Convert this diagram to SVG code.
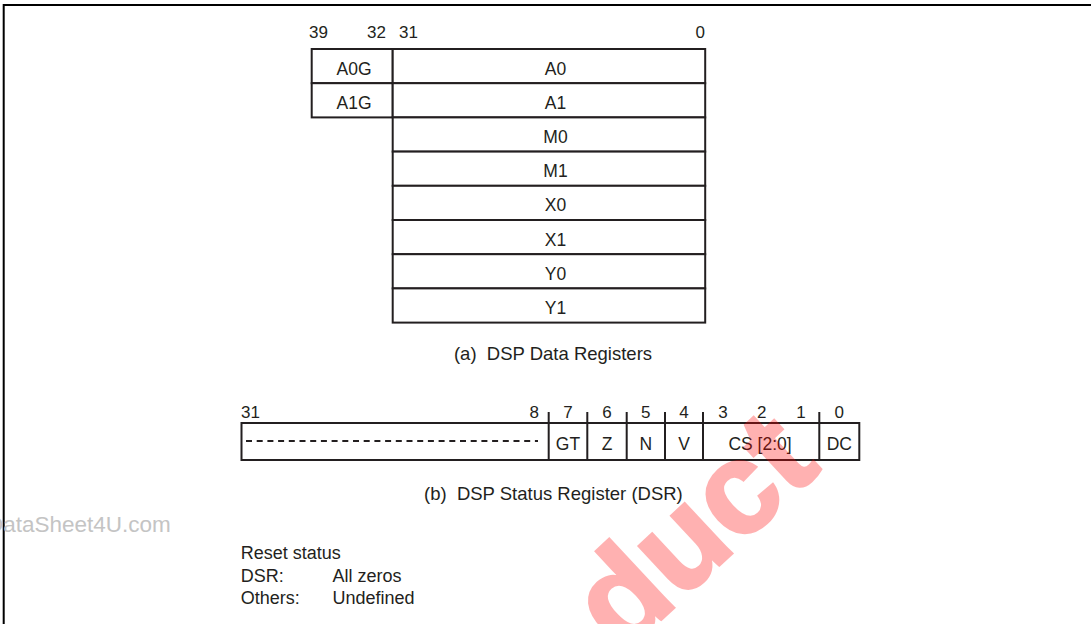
<svg xmlns="http://www.w3.org/2000/svg" width="1091" height="624" viewBox="0 0 1091 624">
<style>
  text { font-family: "Liberation Sans", Arial, sans-serif; fill: #231f20; }
  .cell { fill: #ffffff; stroke: #231f20; stroke-width: 2; }
  .lbl { font-size: 17.5px; text-anchor: middle; }
  .bit { font-size: 17px; }
  .mid { text-anchor: middle; }
  .end { text-anchor: end; }
  .cap { font-size: 18.5px; text-anchor: middle; }
  .note { font-size: 18px; }
  .ln { stroke: #231f20; stroke-width: 2; fill: none; }
  .frame { stroke: #000000; stroke-width: 2; fill: none; }
  .wm { font-size: 22.5px; fill: #c4c4c4; }
  .wmred { font-size: 130px; font-weight: bold; fill: #ff0000; stroke: #ff0000; stroke-width: 3; opacity: 0.3; }
</style>

<g id="frame">
  <path class="frame" d="M3.7,624 V5 H1091"/>
</g>

<!-- (a) DSP data registers -->
<g id="data-bits">
  <text class="bit" x="309" y="38">39</text>
  <text class="bit end" x="386" y="38">32</text>
  <text class="bit" x="399" y="38">31</text>
  <text class="bit end" x="705" y="38">0</text>
</g>
<g id="A0G"><rect class="cell" x="311.7" y="49" width="81" height="34.2"/><text class="lbl" x="354" y="74.5">A0G</text></g>
<g id="A1G"><rect class="cell" x="311.7" y="83.2" width="81" height="34.2"/><text class="lbl" x="354" y="108.7">A1G</text></g>
<g id="A0"><rect class="cell" x="392.7" y="49" width="312.5" height="34.2"/><text class="lbl" x="555.5" y="74.5">A0</text></g>
<g id="A1"><rect class="cell" x="392.7" y="83.2" width="312.5" height="34.2"/><text class="lbl" x="555.5" y="108.7">A1</text></g>
<g id="M0"><rect class="cell" x="392.7" y="117.4" width="312.5" height="34.2"/><text class="lbl" x="555.5" y="142.9">M0</text></g>
<g id="M1"><rect class="cell" x="392.7" y="151.6" width="312.5" height="34.2"/><text class="lbl" x="555.5" y="177.1">M1</text></g>
<g id="X0"><rect class="cell" x="392.7" y="185.8" width="312.5" height="34.2"/><text class="lbl" x="555.5" y="211.3">X0</text></g>
<g id="X1"><rect class="cell" x="392.7" y="220" width="312.5" height="34.2"/><text class="lbl" x="555.5" y="245.5">X1</text></g>
<g id="Y0"><rect class="cell" x="392.7" y="254.2" width="312.5" height="34.2"/><text class="lbl" x="555.5" y="279.7">Y0</text></g>
<g id="Y1"><rect class="cell" x="392.7" y="288.4" width="312.5" height="34.2"/><text class="lbl" x="555.5" y="313.9">Y1</text></g>
<g id="caption-a"><text class="cap" x="553" y="359.5">(a)&#160; DSP Data Registers</text></g>

<!-- (b) DSP status register -->
<g id="dsr-bits">
  <text class="bit" x="241" y="418">31</text>
  <text class="bit end" x="539" y="418">8</text>
  <text class="bit mid" x="568" y="418">7</text>
  <text class="bit mid" x="607" y="418">6</text>
  <text class="bit mid" x="645.8" y="418">5</text>
  <text class="bit mid" x="684" y="418">4</text>
  <text class="bit mid" x="723" y="418">3</text>
  <text class="bit mid" x="761.7" y="418">2</text>
  <text class="bit mid" x="801" y="418">1</text>
  <text class="bit mid" x="839.3" y="418">0</text>
</g>
<g id="DSR">
  <rect class="cell" x="241.5" y="423" width="617.8" height="37"/>
  <path class="ln" stroke-dasharray="6 4.7" d="M246,441 H538"/>
  <path class="ln" d="M548.7,412 V460 M587.3,412 V460 M626.7,412 V460 M665,412 V460 M703,412 V460 M819.3,412 V460"/>
  <text class="lbl" x="568" y="450">GT</text>
  <text class="lbl" x="607" y="450">Z</text>
  <text class="lbl" x="645.8" y="450">N</text>
  <text class="lbl" x="684" y="450">V</text>
  <text class="lbl" x="760" y="450">CS [2:0]</text>
  <text class="lbl" x="839.3" y="450">DC</text>
</g>
<g id="caption-b"><text class="cap" x="553.4" y="500">(b)&#160; DSP Status Register (DSR)</text></g>

<g id="reset-note">
  <text class="note" x="240.7" y="559">Reset status</text>
  <text class="note" x="240.7" y="581.5">DSR:</text>
  <text class="note" x="332.5" y="581.5">All zeros</text>
  <text class="note" x="240.7" y="604">Others:</text>
  <text class="note" x="332.5" y="604">Undefined</text>
</g>

<g id="watermarks">
  <text class="wm" x="-13" y="532">DataSheet4U.com</text>
  <text class="wmred" transform="translate(622,656) rotate(-43)">duct</text>
</g>
</svg>
